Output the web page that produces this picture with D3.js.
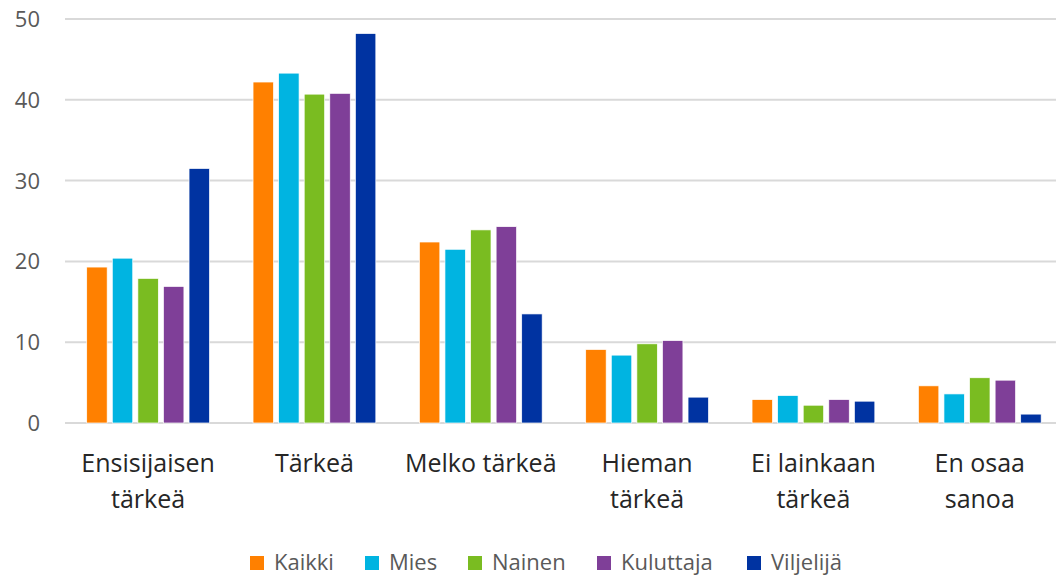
<!DOCTYPE html>
<html>
<head>
<meta charset="utf-8">
<script src="https://cdn.jsdelivr.net/npm/d3@7"></script>
<style>
  body { margin: 0; background: #fff; }
  text { font-family: "Open Sans", Lato, sans-serif; }
</style>
</head>
<body>
<div id="vis"></div>
<script>
var categories = [["Ensisijaisen", "tärkeä"], ["Tärkeä"], ["Melko tärkeä"], ["Hieman", "tärkeä"], ["Ei lainkaan", "tärkeä"], ["En osaa", "sanoa"]];
var seriesNames = ["Kaikki", "Mies", "Nainen", "Kuluttaja", "Viljelijä"];
var kaikki    = [19.3, 42.2, 22.4, 9.1, 2.9, 4.6];
var mies      = [20.4, 43.3, 21.5, 8.4, 3.4, 3.6];
var nainen    = [17.9, 40.7, 23.9, 9.8, 2.2, 5.6];
var kuluttaja = [16.9, 40.8, 24.3, 10.2, 2.9, 5.3];
var viljelija = [31.5, 48.2, 13.5, 3.2, 2.7, 1.1];
var yTicks = [0, 10, 20, 30, 40, 50];
var colors = ["#ff8000", "#00b4e1", "#7abc21", "#7f3f98", "#0033a1"];

var series = [kaikki, mies, nainen, kuluttaja, viljelija];

var width = 1056, height = 578;

var svg = d3.select("#vis").append("svg")
    .attr("width", width)
    .attr("height", height);

var x0 = d3.scaleBand()
    .domain(d3.range(categories.length))
    .range([65, 1063]);

var x1 = d3.scaleBand()
    .domain(d3.range(seriesNames.length))
    .range([21.7, 144.5])
    .paddingInner(0.2);

var y = d3.scaleLinear()
    .domain([0, 50])
    .range([423, 19]);

// gridlines + y labels
svg.append("g").selectAll("line")
    .data(yTicks)
    .enter().append("line")
    .attr("x1", 65).attr("x2", 1056)
    .attr("y1", function(d) { return y(d); })
    .attr("y2", function(d) { return y(d); })
    .attr("stroke", "#d9d9d9")
    .attr("stroke-width", 2);

svg.append("g").selectAll("text")
    .data(yTicks)
    .enter().append("text")
    .attr("x", 40)
    .attr("y", function(d) { return y(d); })
    .attr("dy", "0.36em")
    .attr("text-anchor", "end")
    .attr("fill", "#595959")
    .style("font-size", "22px")
    .text(function(d) { return d; });

// bars
var groups = svg.append("g").selectAll("g")
    .data(categories)
    .enter().append("g")
    .attr("transform", function(d, i) { return "translate(" + x0(i) + ",0)"; });

groups.selectAll("rect")
    .data(function(d, i) { return series.map(function(s, j) { return {s: j, v: s[i]}; }); })
    .enter().append("rect")
    .attr("x", function(d) { return x1(d.s); })
    .attr("width", x1.bandwidth())
    .attr("y", function(d) { return y(d.v); })
    .attr("height", function(d) { return y(0) - y(d.v); })
    .attr("fill", function(d) { return colors[d.s]; })
    .attr("stroke", "#fff")
    .attr("stroke-width", 0.7);

// category labels
var labelCenter = x1.range()[0] + (x1.range()[1] - x1.range()[0]) / 2;
groups.append("text")
    .attr("y", 472)
    .attr("text-anchor", "middle")
    .attr("fill", "#262626")
    .style("font-size", "25px")
    .selectAll("tspan")
    .data(function(d) { return d; })
    .enter().append("tspan")
    .attr("x", labelCenter)
    .attr("dy", function(d, i) { return i ? 36 : 0; })
    .text(function(d) { return d; });

// legend
var legendX = [250, 365, 468, 597, 747];
var legend = svg.append("g").selectAll("g")
    .data(seriesNames)
    .enter().append("g")
    .attr("transform", function(d, i) { return "translate(" + legendX[i] + ",556)"; });

legend.append("rect")
    .attr("width", 14).attr("height", 14)
    .attr("fill", function(d, i) { return colors[i]; });

legend.append("text")
    .attr("x", 24)
    .attr("y", 14)
    .attr("fill", "#595959")
    .style("font-size", "22px")
    .text(function(d) { return d; });
</script>
</body>
</html>
